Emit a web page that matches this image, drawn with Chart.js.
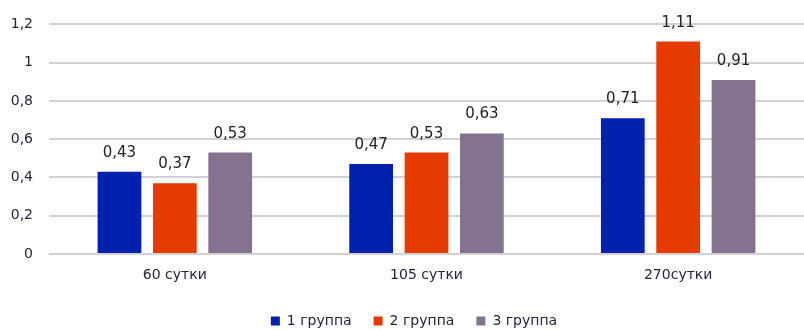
<!DOCTYPE html>
<html><head><meta charset="utf-8">
<script src="https://cdn.jsdelivr.net/npm/chart.js@4/dist/chart.umd.min.js"></script>
<style>html,body{margin:0;padding:0;background:#fff}#w{width:804px;height:330px}</style>
</head><body><div id="w"><canvas id="c"></canvas></div>
<script>
const categories = ["60 сутки", "105 сутки", "270сутки"];
const group1 = [0.43, 0.47, 0.71];
const group2 = [0.37, 0.53, 1.11];
const group3 = [0.53, 0.63, 0.91];
const seriesNames = ["1 группа", "2 группа", "3 группа"];
const colors = ["#0021AE", "#E63B00", "#83738E"];
const yTicks = [0, 0.2, 0.4, 0.6, 0.8, 1, 1.2];

const fmt = v => String(v).replace('.', ',');
const FONT = "'DejaVu Sans', sans-serif";
const TXT = "#2a2238";

const labelPlugin = {
  id: 'vals',
  afterLayout(chart) {
    if (chart.legend) { chart.legend.left += 24; }
  },
  afterDatasetsDraw(chart) {
    const ctx = chart.ctx;
    ctx.save();
    ctx.font = "15px " + FONT;
    ctx.fillStyle = "#222";
    ctx.textAlign = "center";
    ctx.textBaseline = "alphabetic";
    chart.data.datasets.forEach((ds, i) => {
      chart.getDatasetMeta(i).data.forEach((bar, j) => {
        ctx.fillText(fmt(ds.data[j]), bar.x, bar.y - 15);
      });
    });
    ctx.restore();
  }
};

new Chart(document.getElementById('c'), {
  type: 'bar',
  data: {
    labels: categories,
    datasets: [group1, group2, group3].map((d, i) => ({
      label: seriesNames[i], data: d, backgroundColor: colors[i],
      categoryPercentage: 0.66, barPercentage: 0.79
    }))
  },
  options: {
    responsive: true, maintainAspectRatio: false, animation: false,
    layout: { padding: { top: 24, right: 0, left: 0, bottom: -8 } },
    scales: {
      x: {
        grid: { display: false },
        border: { display: false },
        ticks: { color: TXT, font: { family: FONT, size: 14 }, padding: 5 },
        afterFit(s) { s.height = 38; }
      },
      y: {
        min: 0, max: 1.2,
        afterBuildTicks(s) { s.ticks = yTicks.map(v => ({ value: v })); },
        grid: { color: "#d3d0d8", lineWidth: 2, drawTicks: false },
        border: { display: false },
        ticks: { color: TXT, font: { family: FONT, size: 14 }, padding: 16,
                 callback: v => fmt(v) },
        afterFit(s) { s.width = 49; }
      }
    },
    plugins: {
      legend: {
        position: 'bottom',
        labels: { color: TXT, font: { family: FONT, size: 14 }, boxWidth: 9, boxHeight: 9, padding: 22 }
      },
      tooltip: { enabled: false }
    }
  },
  plugins: [labelPlugin]
});
</script></body></html>
